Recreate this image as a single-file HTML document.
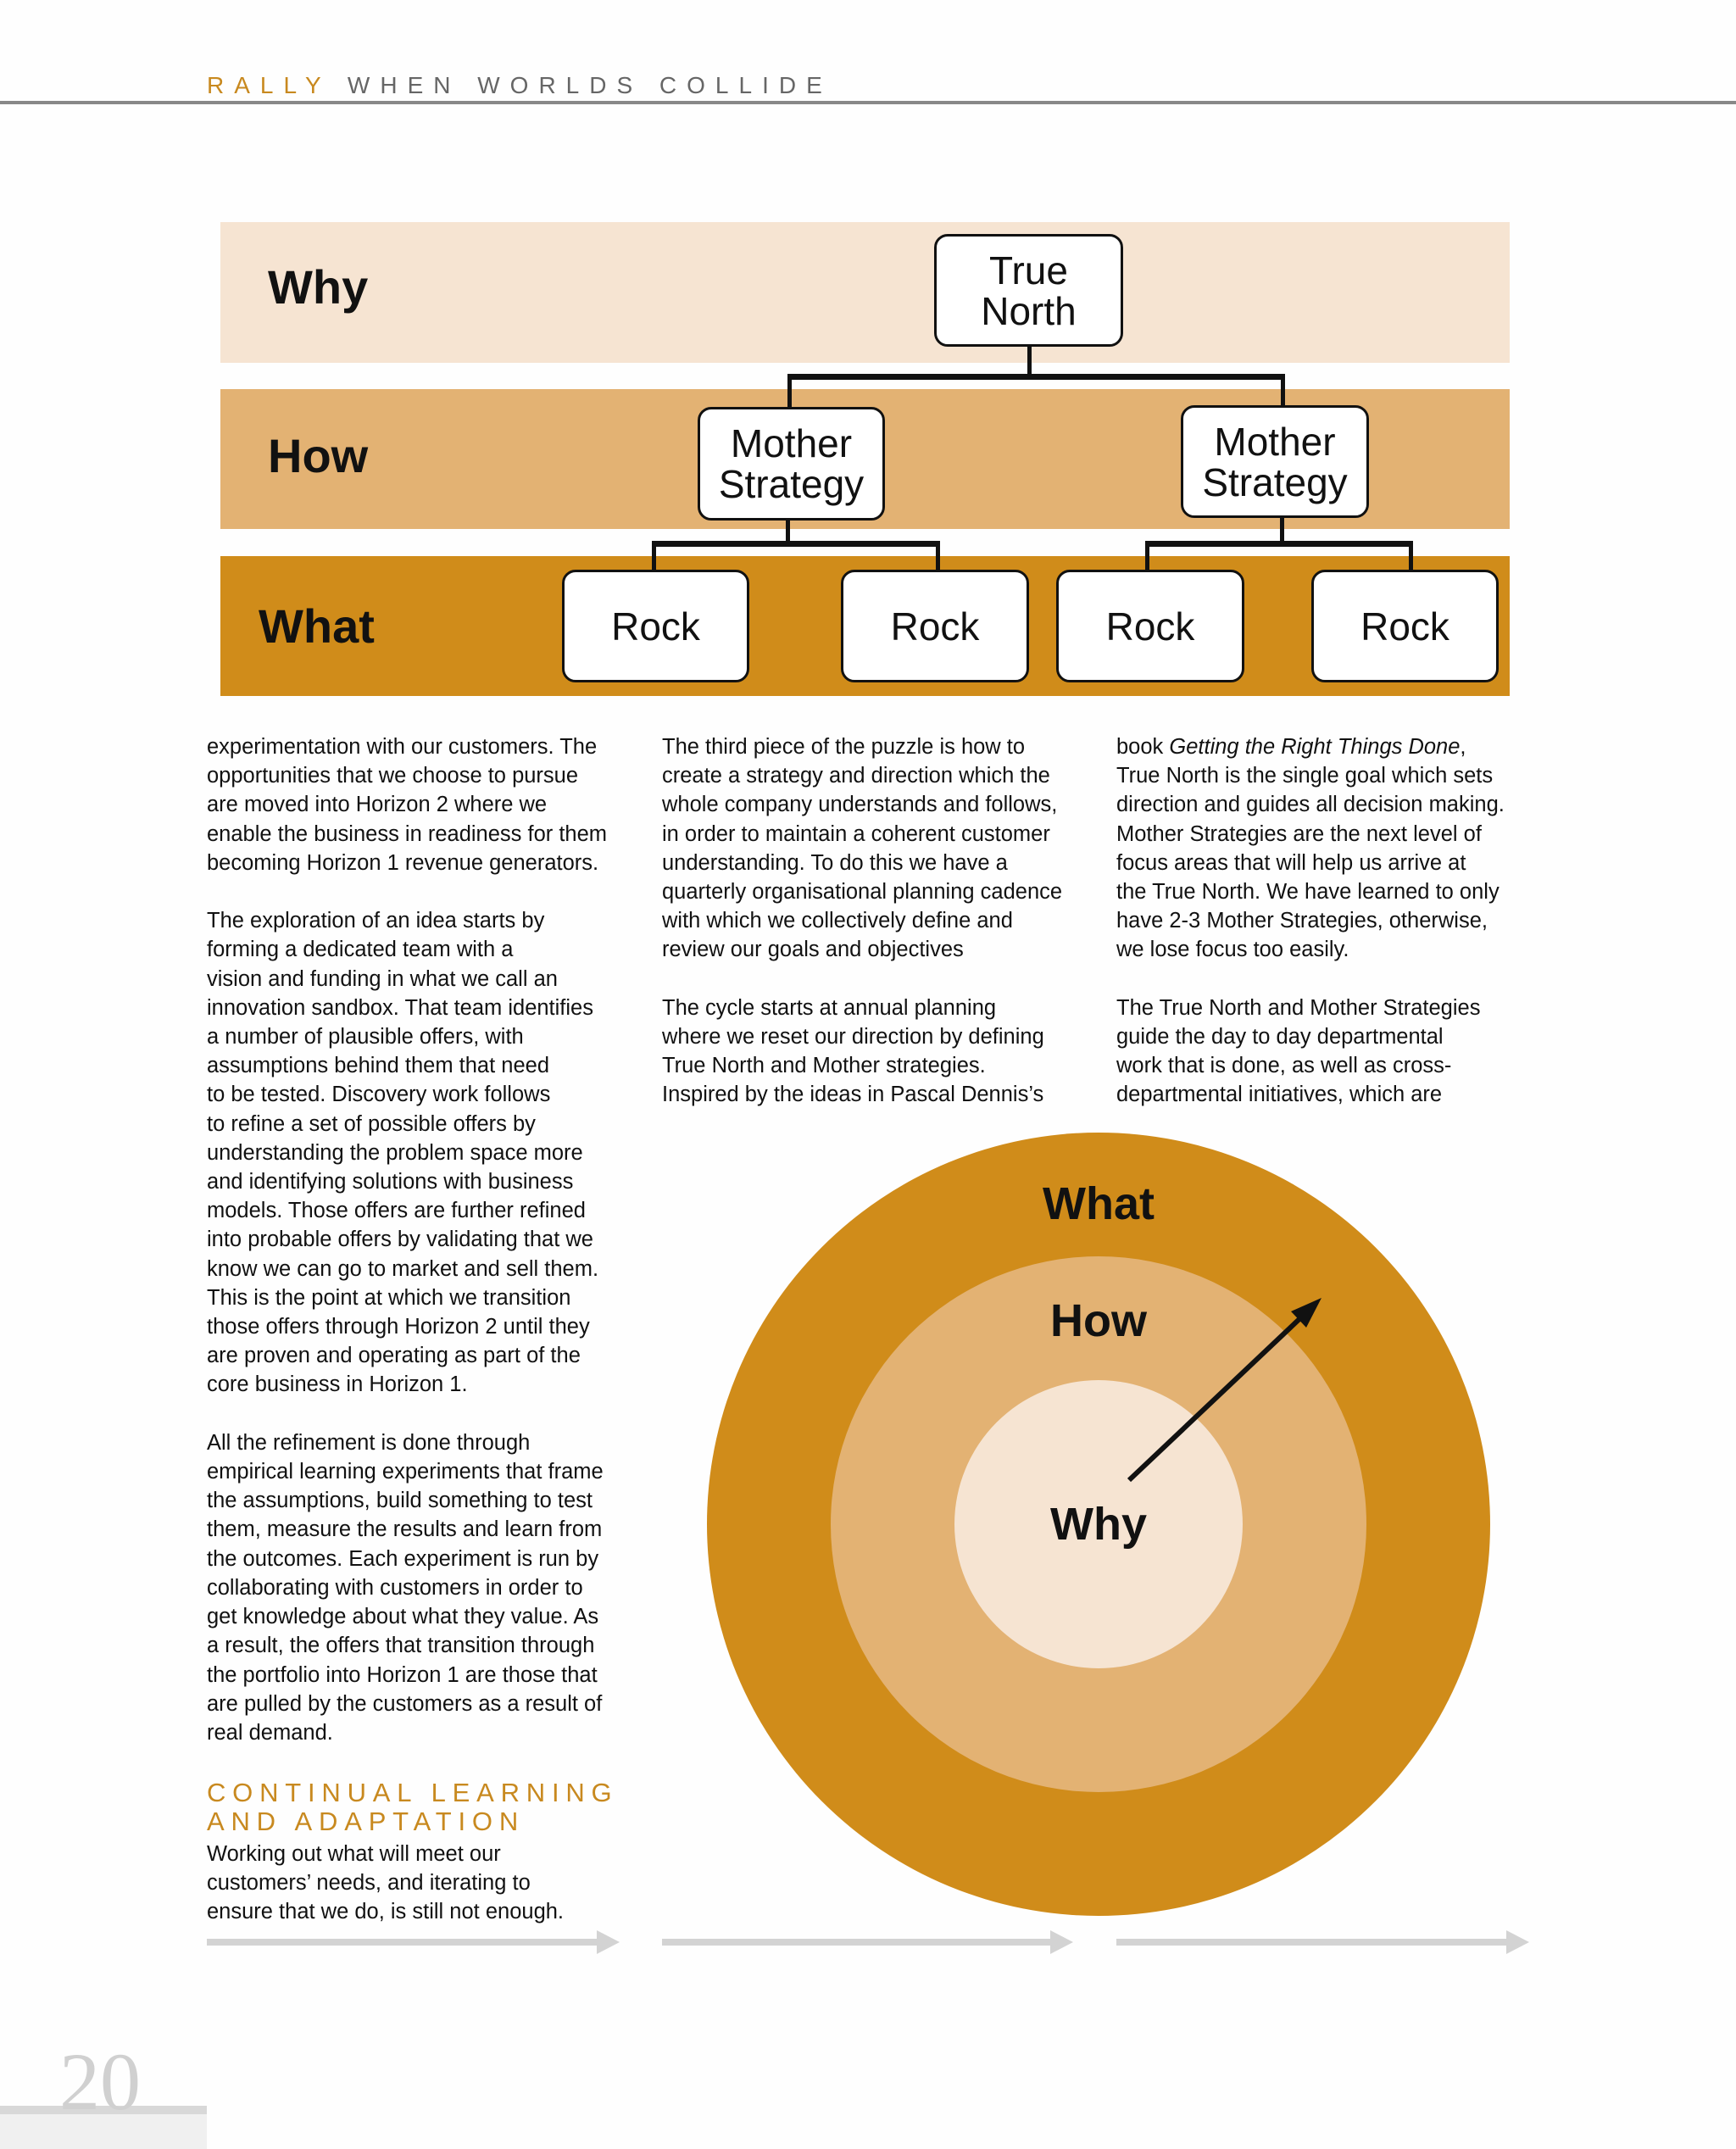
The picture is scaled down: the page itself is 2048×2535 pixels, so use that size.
<!DOCTYPE html>
<html><head><meta charset="utf-8"><style>
body{margin:0;background:#fefefe;}
#p{position:relative;width:2048px;height:2535px;overflow:hidden;background:#fefefe;font-family:"Liberation Sans",sans-serif;}
.a{position:absolute;}
.col{position:absolute;font-size:25.5px;line-height:34.2px;color:#111;white-space:nowrap;}
.box{position:absolute;background:#fff;border:3px solid #111;border-radius:16px;box-sizing:border-box;display:flex;align-items:center;justify-content:center;text-align:center;font-size:46px;line-height:48px;color:#111;}
.lab{position:absolute;font-weight:bold;font-size:56px;color:#111;}
.ln{position:absolute;background:#111;}
</style></head><body><div id="p">
<div class="a" style="left:244px;top:85px;font-size:28px;letter-spacing:12px;color:#666;white-space:nowrap"><span style="color:#c8891f">RALLY</span> WHEN WORLDS COLLIDE</div>
<div class="a" style="left:0;top:119px;width:2048px;height:4px;background:#888"></div>

<div class="a" style="left:260px;top:262px;width:1521px;height:166px;background:#f6e4d2"></div>
<div class="a" style="left:260px;top:459px;width:1521px;height:165px;background:#e3b273"></div>
<div class="a" style="left:260px;top:656px;width:1521px;height:165px;background:#d08c1a"></div>
<div class="lab" style="left:316px;top:306px">Why</div>
<div class="lab" style="left:316px;top:505px">How</div>
<div class="lab" style="left:305px;top:706px">What</div>

<div class="ln" style="left:1212px;top:409px;width:5px;height:38px"></div>
<div class="ln" style="left:929px;top:441px;width:587px;height:7px"></div>
<div class="ln" style="left:929px;top:441px;width:5px;height:40px"></div>
<div class="ln" style="left:1511px;top:441px;width:5px;height:40px"></div>
<div class="ln" style="left:927px;top:612px;width:5px;height:32px"></div>
<div class="ln" style="left:769px;top:638px;width:340px;height:7px"></div>
<div class="ln" style="left:769px;top:638px;width:5px;height:36px"></div>
<div class="ln" style="left:1104px;top:638px;width:5px;height:36px"></div>
<div class="ln" style="left:1510px;top:610px;width:5px;height:34px"></div>
<div class="ln" style="left:1351px;top:638px;width:316px;height:7px"></div>
<div class="ln" style="left:1351px;top:638px;width:5px;height:36px"></div>
<div class="ln" style="left:1662px;top:638px;width:5px;height:36px"></div>

<div class="box" style="left:1102px;top:276px;width:223px;height:133px">True<br>North</div>
<div class="box" style="left:823px;top:480px;width:221px;height:134px">Mother<br>Strategy</div>
<div class="box" style="left:1393px;top:478px;width:222px;height:133px">Mother<br>Strategy</div>
<div class="box" style="left:663px;top:672px;width:221px;height:133px">Rock</div>
<div class="box" style="left:992px;top:672px;width:222px;height:133px">Rock</div>
<div class="box" style="left:1246px;top:672px;width:222px;height:133px">Rock</div>
<div class="box" style="left:1547px;top:672px;width:221px;height:133px">Rock</div>

<div class="col" style="left:244px;top:864px">experimentation with our customers. The<br>opportunities that we choose to pursue<br>are moved into Horizon 2 where we<br>enable the business in readiness for them<br>becoming Horizon 1 revenue generators.<br>&nbsp;<br>The exploration of an idea starts by<br>forming a dedicated team with a<br>vision and funding in what we call an<br>innovation sandbox. That team identifies<br>a number of plausible offers, with<br>assumptions behind them that need<br>to be tested. Discovery work follows<br>to refine a set of possible offers by<br>understanding the problem space more<br>and identifying solutions with business<br>models. Those offers are further refined<br>into probable offers by validating that we<br>know we can go to market and sell them.<br>This is the point at which we transition<br>those offers through Horizon 2 until they<br>are proven and operating as part of the<br>core business in Horizon 1.<br>&nbsp;<br>All the refinement is done through<br>empirical learning experiments that frame<br>the assumptions, build something to test<br>them, measure the results and learn from<br>the outcomes. Each experiment is run by<br>collaborating with customers in order to<br>get knowledge about what they value. As<br>a result, the offers that transition through<br>the portfolio into Horizon 1 are those that<br>are pulled by the customers as a result of<br>real demand.</div>
<div class="col" style="left:781px;top:864px">The third piece of the puzzle is how to<br>create a strategy and direction which the<br>whole company understands and follows,<br>in order to maintain a coherent customer<br>understanding. To do this we have a<br>quarterly organisational planning cadence<br>with which we collectively define and<br>review our goals and objectives<br>&nbsp;<br>The cycle starts at annual planning<br>where we reset our direction by defining<br>True North and Mother strategies.<br>Inspired by the ideas in Pascal Dennis’s</div>
<div class="col" style="left:1317px;top:864px">book <i>Getting the Right Things Done</i>,<br>True North is the single goal which sets<br>direction and guides all decision making.<br>Mother Strategies are the next level of<br>focus areas that will help us arrive at<br>the True North. We have learned to only<br>have 2-3 Mother Strategies, otherwise,<br>we lose focus too easily.<br>&nbsp;<br>The True North and Mother Strategies<br>guide the day to day departmental<br>work that is done, as well as cross-<br>departmental initiatives, which are</div>

<div class="a" style="left:244px;top:2098px;font-size:31px;line-height:34px;letter-spacing:7.8px;color:#c8891f;white-space:nowrap">CONTINUAL LEARNING<br>AND ADAPTATION</div>
<div class="col" style="left:244px;top:2170px">Working out what will meet our<br>customers’ needs, and iterating to<br>ensure that we do, is still not enough.</div>

<svg class="a" style="left:0;top:0" width="2048" height="2535">
<circle cx="1296" cy="1798" r="462" fill="#d08c1a"/>
<circle cx="1296" cy="1798" r="316" fill="#e3b273"/>
<circle cx="1296" cy="1798" r="170" fill="#f6e4d2"/>
<text x="1296" y="1438" text-anchor="middle" font-family="Liberation Sans" font-weight="bold" font-size="54" fill="#111">What</text>
<text x="1296" y="1576" text-anchor="middle" font-family="Liberation Sans" font-weight="bold" font-size="54" fill="#111">How</text>
<text x="1296" y="1816" text-anchor="middle" font-family="Liberation Sans" font-weight="bold" font-size="54" fill="#111">Why</text>
<line x1="1332" y1="1746" x2="1535" y2="1554" stroke="#111" stroke-width="6"/>
<polygon points="1559,1531 1523,1547 1541,1566" fill="#111"/>
<g fill="#d3d3d3">
<rect x="244" y="2287" width="460" height="8"/><polygon points="704,2277 731,2291 704,2305"/>
<rect x="781" y="2287" width="458" height="8"/><polygon points="1239,2277 1266,2291 1239,2305"/>
<rect x="1317" y="2287" width="460" height="8"/><polygon points="1777,2277 1804,2291 1777,2305"/>
</g>
<rect x="0" y="2486" width="244" height="49" fill="#f0f0f0"/>
<rect x="0" y="2484" width="244" height="10" fill="#d8d8d8"/>
<text x="70" y="2488" font-family="Liberation Serif" font-size="96" fill="#d0d0d0">20</text>
</svg>
</div></body></html>
